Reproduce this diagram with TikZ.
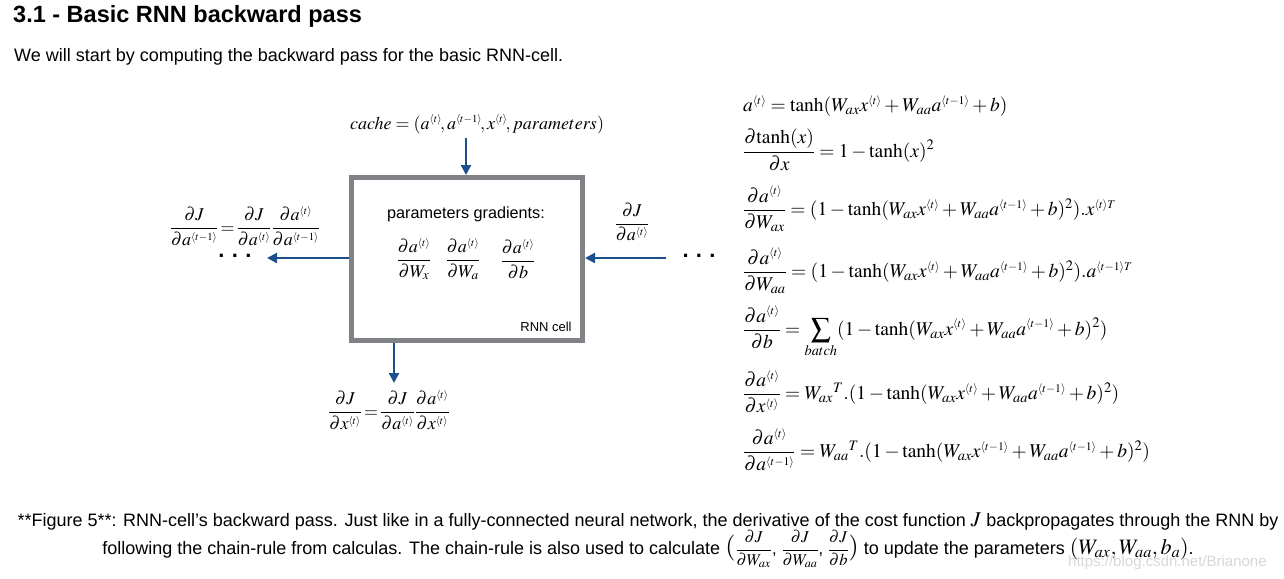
\documentclass[tikz,border=0pt]{standalone}
\usepackage{amsmath}
\usepackage{mathptmx}
\usepackage{fontspec}
\setmainfont{Liberation Sans}
\usepackage{graphicx}
\usetikzlibrary{arrows.meta}
\definecolor{arrowblue}{RGB}{28,80,140}
\definecolor{boxgray}{RGB}{128,130,134}
\definecolor{wmgray}{RGB}{215,215,215}
\newcommand{\tT}{{\scriptscriptstyle\langle t\rangle}}
\newcommand{\tM}{{\scriptscriptstyle\langle t-1\rangle}}
\tikzset{
  flow/.style={draw=arrowblue, line width=2.2pt, -{Triangle[length=10pt,width=10pt]}},
  cellbox/.style={draw=boxgray, line width=5pt, fill=white, minimum width=231pt, minimum height=163pt},
  dmath/.style={inner sep=0pt, font=\fontsize{18}{21}\selectfont},
  emath/.style={inner sep=0pt, anchor=west, font=\fontsize{19.5}{22}\selectfont},
  dotsty/.style={inner sep=0pt, font=\fontsize{22}{22}\selectfont\bfseries},
  captext/.style={anchor=base, inner sep=0pt, font=\fontsize{18}{21}\selectfont},
}
\begin{document}
\begin{tikzpicture}[x=1pt,y=-1pt]
\useasboundingbox (0,0) rectangle (1284,578);
% heading and intro
\node[anchor=base west, inner sep=0pt, font=\fontsize{23.5}{26}\selectfont\bfseries] (head) at (13,23) {3.1 - Basic RNN backward pass};
\node[anchor=base west, inner sep=0pt, font=\fontsize{18}{21}\selectfont] (intro) at (14,62) {We will start by computing the backward pass for the basic RNN-cell.};
% cell
\node[cellbox] (cell) at (467,259) {};
\node[inner sep=0pt, font=\fontsize{16.2}{19}\selectfont] (pg) at (466,214) {parameters gradients:};
\node[dmath] (g1) at (414,259) {$\dfrac{\partial a^{\tT}}{\partial W_x}$};
\node[dmath] (g2) at (463,259) {$\dfrac{\partial a^{\tT}}{\partial W_a}$};
\node[dmath] (g3) at (518,259) {$\dfrac{\partial a^{\tT}}{\partial b}$};
\node[inner sep=0pt, font=\fontsize{13}{15}\selectfont] (rnn) at (546,327) {RNN cell};
% cache
\node[inner sep=0pt, font=\fontsize{18}{21}\selectfont] (cache) at (477,124) {$cache=(a^{\tT}\!,a^{\tM}\!,x^{\tT}\!,parameters)$};
\coordinate (topstart) at (466,138);
\draw[flow] (topstart) -- (topstart |- cell.north);
% left
\coordinate (lend) at (267,258);
\draw[flow] (cell.west |- lend) -- (lend);
\node[dotsty] (ldots) at (235,256) {.\,\,.\,\,.};
\node[dmath] (lform) at (245,226) {$\dfrac{\partial J}{\partial a^{\tM}}\!=\!\dfrac{\partial J}{\partial a^{\tT}}\dfrac{\partial a^{\tT}}{\partial a^{\tM}}$};
% right
\coordinate (rstart) at (666,258);
\draw[flow] (rstart) -- (rstart -| cell.east);
\node[dotsty] (rdots) at (699,256) {.\,\,.\,\,.};
\node[dmath] (rform) at (632,222) {$\dfrac{\partial J}{\partial a^{\tT}}$};
% bottom
\coordinate (botend) at (394,383);
\draw[flow] (cell.south -| botend) -- (botend);
\node[dmath] (bform) at (389,410) {$\dfrac{\partial J}{\partial x^{\tT}}\!=\!\dfrac{\partial J}{\partial a^{\tT}}\dfrac{\partial a^{\tT}}{\partial x^{\tT}}$};
% equations
\node[emath] (e1) at (743,106) {$a^{\tT}=\tanh(W_{ax}x^{\tT}+W_{aa}a^{\tM}+b)$};
\node[emath] (e2) at (743,150) {$\dfrac{\partial\!\tanh(x)}{\partial x}=1-\tanh(x)^2$};
\node[emath] (e3) at (743,209) {$\dfrac{\partial a^{\tT}}{\partial W_{ax}}=(1-\tanh(W_{ax}x^{\tT}+W_{aa}a^{\tM}+b)^2).x^{\scriptscriptstyle\langle t\rangle T}$};
\node[emath] (e4) at (743,271) {$\dfrac{\partial a^{\tT}}{\partial W_{aa}}=(1-\tanh(W_{ax}x^{\tT}+W_{aa}a^{\tM}+b)^2).a^{\scriptscriptstyle\langle t-1\rangle T}$};
\node[emath] (e5) at (743,332) {$\dfrac{\partial a^{\tT}}{\partial b}=\displaystyle\sum_{batch}(1-\tanh(W_{ax}x^{\tT}+W_{aa}a^{\tM}+b)^2)$};
\node[emath] (e6) at (743,392) {$\dfrac{\partial a^{\tT}}{\partial x^{\tT}}=W_{ax}{}^T.(1-\tanh(W_{ax}x^{\tT}+W_{aa}a^{\tM}+b)^2)$};
\node[emath] (e7) at (743,450) {$\dfrac{\partial a^{\tT}}{\partial a^{\tM}}=W_{aa}{}^T.(1-\tanh(W_{ax}x^{\tM}+W_{aa}a^{\tM}+b)^2)$};
% caption
\node[captext] (cap1) at (648,526) {**Figure 5**: RNN-cell's backward pass. Just like in a fully-connected neural network, the derivative of the cost function {\fontsize{21}{21}\selectfont$J$} backpropagates through the RNN by};
\node[captext] (cap2) at (648,554) {following the chain-rule from calculas. The chain-rule is also used to calculate {\fontsize{26}{26}\selectfont$($}{\fontsize{16.5}{18}\selectfont$\dfrac{\partial J}{\partial W_{ax}}$, $\dfrac{\partial J}{\partial W_{aa}}$, $\dfrac{\partial J}{\partial b}$}{\fontsize{26}{26}\selectfont$)$} to update the parameters {\fontsize{22}{22}\selectfont$(W_{ax},W_{aa},b_a)$}.};
\node[anchor=base west, inner sep=0pt, font=\fontsize{15}{17}\selectfont, text=wmgray] (wm) at (1068,566) {https://blog.csdn.net/Brianone};
\end{tikzpicture}
\end{document}
